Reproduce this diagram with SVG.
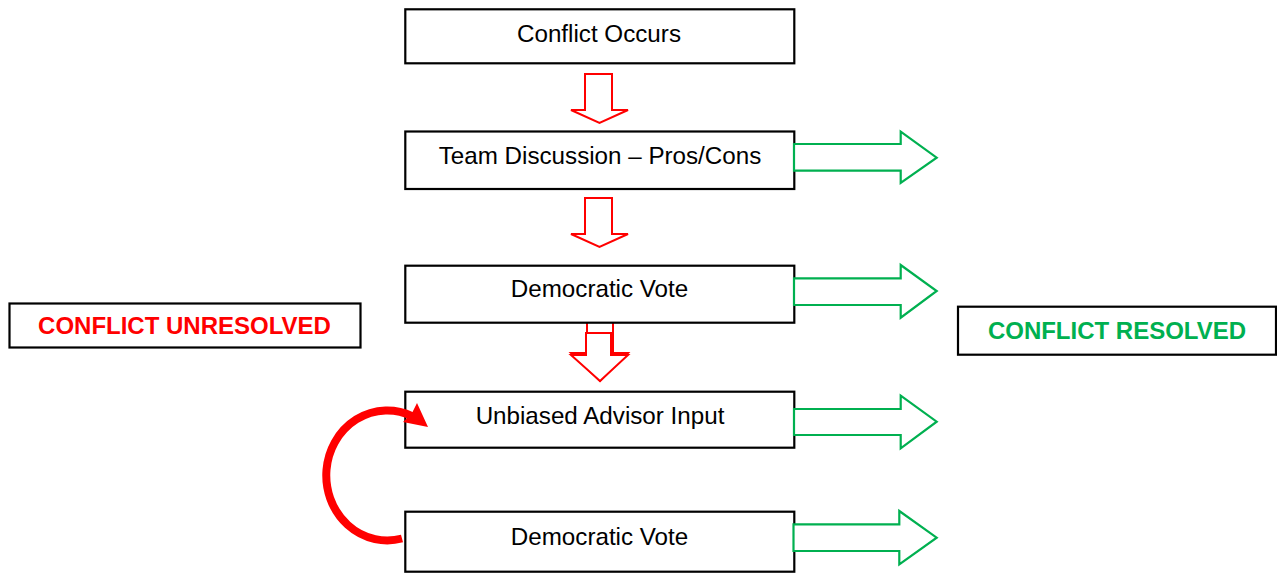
<svg xmlns="http://www.w3.org/2000/svg" width="1277" height="573" viewBox="0 0 1277 573">
<style>
.box{fill:#fff;stroke:#000;stroke-width:2.2}
.t{font-family:"Liberation Sans",Arial,sans-serif;font-size:24.2px;fill:#000;text-anchor:middle}
.tb{font-family:"Liberation Sans",Arial,sans-serif;font-size:24px;font-weight:bold;text-anchor:middle}
.red{fill:#fff;stroke:#ff0000;stroke-width:2}
.green{fill:#fff;stroke:#00b050;stroke-width:2.2}
</style>
<rect width="1277" height="573" fill="#fff"/>
<g id="connectors">
  <polygon class="red" points="587,318 613,318 613,353 628,353 600,381 571,353 587,353"/>
  <polygon class="red" points="585,74 612,74 612,110 628,110 599.5,123 571,110 585,110"/>
  <polygon class="red" points="585,198 612,198 612,234 628,234 599.5,247 571,234 585,234"/>
  <polygon class="red" points="586,333 611,333 611,355 628,355 600,381 571,355 586,355"/>
</g>
<g id="n1"><rect class="box" x="405.3" y="9.3" width="389" height="54"/><text class="t" x="599" y="41.7">Conflict Occurs</text></g>
<g id="n2"><rect class="box" x="405.3" y="131.5" width="389" height="57.5"/><text class="t" x="600" y="164">Team Discussion – Pros/Cons</text></g>
<g id="n3"><rect class="box" x="405.3" y="265.7" width="389" height="57"/><text class="t" x="599.5" y="297.3">Democratic Vote</text></g>
<g id="n4"><rect class="box" x="405.3" y="391.7" width="389" height="56"/><text class="t" x="600" y="424">Unbiased Advisor Input</text></g>
<g id="n5"><rect class="box" x="405.3" y="511.7" width="389" height="60"/><text class="t" x="599.5" y="545">Democratic Vote</text></g>
<g id="unresolved"><rect class="box" x="9.5" y="303.5" width="351" height="44"/><text class="tb" x="184.5" y="334" fill="#ff0000">CONFLICT UNRESOLVED</text></g>
<g id="resolved"><rect class="box" x="958" y="306.7" width="318" height="48"/><text class="tb" x="1117" y="339" fill="#00b050">CONFLICT RESOLVED</text></g>
<g id="green-connectors">
  <polygon class="green" points="794,144 900.7,144 900.7,131.7 936.7,157.7 900.7,183 900.7,170.7 794,170.7"/>
  <polygon class="green" points="794,278.3 900.7,278.3 900.7,265 936.7,291 900.7,317.7 900.7,305 794,305"/>
  <polygon class="green" points="794,409 900.7,409 900.7,395.7 936.7,421.7 900.7,448.3 900.7,435 794,435"/>
  <polygon class="green" points="793.5,524.3 899.3,524.3 899.3,511 936.7,537.7 899.3,564.3 899.3,551 793.5,551"/>
</g>
<g id="loop">
  <path d="M 402 538.5 A 61 65 0 1 1 412 416" fill="none" stroke="#ff0000" stroke-width="8"/>
  <polygon points="428,427 417,403 412,413 403,422" fill="#ff0000"/>
</g>
</svg>
